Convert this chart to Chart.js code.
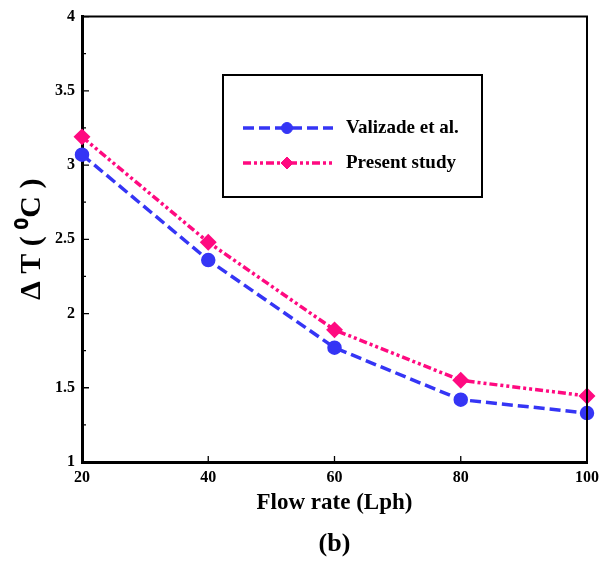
<!DOCTYPE html>
<html>
<head>
<meta charset="utf-8">
<script src="https://cdn.jsdelivr.net/npm/chart.js@4.4.1/dist/chart.umd.min.js"></script>
<style>
  html, body { margin: 0; padding: 0; background: #fff; }
  #wrap { width: 609px; height: 562px; }
</style>
</head>
<body>
<div id="wrap"><canvas id="grafico"></canvas></div>
<script>
// datos
const flowRate = [20, 40, 60, 80, 100];
const valizade = [3.07, 2.36, 1.77, 1.42, 1.33];
const present = [3.19, 2.48, 1.89, 1.55, 1.445];
const xTicks = [20, 40, 60, 80, 100];
const yTicks = [1, 1.5, 2, 2.5, 3, 3.5, 4];
const seriesNames = ["Valizade et al.", "Present study"];

const serif = "'Liberation Serif', 'Times New Roman', serif";
const azul = "#3535f5";
const rosa = "#ff0a80";

const pares = ys => flowRate.map((x, i) => ({ x, y: ys[i] }));

// marco superior/derecho, ticks hacia dentro y leyenda en caja
const marco = {
  id: "marco",
  afterDatasetsDraw(chart) {
    const { ctx, chartArea: a, scales } = chart;
    ctx.save();
    ctx.strokeStyle = "#000";
    ctx.lineWidth = 2;
    ctx.beginPath();
    ctx.moveTo(a.left, a.top);
    ctx.lineTo(a.right, a.top);
    ctx.lineTo(a.right, a.bottom);
    ctx.stroke();

    ctx.lineWidth = 1.3;
    ctx.beginPath();
    xTicks.forEach(v => {
      const px = scales.x.getPixelForValue(v);
      ctx.moveTo(px, a.bottom);
      ctx.lineTo(px, a.bottom - 6);
    });
    yTicks.forEach((v, i) => {
      const py = scales.y.getPixelForValue(v);
      ctx.moveTo(a.left, py);
      ctx.lineTo(a.left + 7, py);
      if (i < yTicks.length - 1) {
        const pm = scales.y.getPixelForValue((v + yTicks[i + 1]) / 2);
        ctx.moveTo(a.left, pm);
        ctx.lineTo(a.left + 4, pm);
      }
    });
    ctx.stroke();

    // leyenda
    ctx.lineWidth = 2;
    ctx.strokeRect(223, 75, 259, 122);
    chart.data.datasets.forEach((ds, i) => {
      const y = 128 + i * 35;
      ctx.strokeStyle = ds.borderColor;
      ctx.lineWidth = ds.borderWidth;
      ctx.setLineDash(ds.borderDash);
      ctx.beginPath();
      ctx.moveTo(243, y);
      ctx.lineTo(333, y);
      ctx.stroke();
      ctx.setLineDash([]);
      ctx.fillStyle = ds.pointBackgroundColor;
      ctx.strokeStyle = ds.pointBorderColor;
      ctx.lineWidth = 1;
      Chart.helpers.drawPoint(ctx, { pointStyle: ds.pointStyle, radius: ds.pointRadius, rotation: 0, borderWidth: 1 }, 287, y);
      ctx.fillStyle = "#000";
      ctx.font = "bold 19px " + serif;
      ctx.textBaseline = "middle";
      ctx.textAlign = "left";
      ctx.fillText(ds.label, 346, y);
    });
    ctx.restore();
  }
};

new Chart(document.getElementById("grafico"), {
  type: "line",
  data: {
    datasets: [
      {
        label: seriesNames[0],
        data: pares(valizade),
        borderColor: azul,
        borderWidth: 3.5,
        borderDash: [11, 5],
        pointStyle: "circle",
        pointRadius: 5.5,
        pointBackgroundColor: azul,
        pointBorderColor: azul,
        clip: false
      },
      {
        label: seriesNames[1],
        data: pares(present),
        borderColor: rosa,
        borderWidth: 3.5,
        borderDash: [8, 3, 3, 3, 3, 3],
        pointStyle: "rectRot",
        pointRadius: 6,
        pointBackgroundColor: rosa,
        pointBorderColor: rosa,
        clip: false
      }
    ]
  },
  options: {
    responsive: true,
    maintainAspectRatio: false,
    animation: false,
    layout: { padding: { left: 0, right: 22, top: 15, bottom: 0 } },
    plugins: {
      legend: { display: false },
      tooltip: { enabled: false },
      title: {
        display: true,
        position: "bottom",
        fullSize: false,
        text: "(b)",
        color: "#000",
        font: { family: serif, size: 26, weight: "bold" },
        padding: { top: 0, bottom: 2 }
      }
    },
    scales: {
      x: {
        type: "linear",
        min: 20,
        max: 100,
        afterBuildTicks: s => { s.ticks = xTicks.map(v => ({ value: v })); },
        afterFit: s => { s.height = 66.8; },
        grid: { display: false, drawTicks: false },
        border: { display: true, color: "#000", width: 3 },
        ticks: {
          color: "#000",
          padding: 6,
          maxRotation: 0,
          font: { family: serif, size: 16, weight: "bold" },
          callback: v => String(v)
        },
        title: {
          display: true,
          text: "Flow rate (Lph)",
          color: "#000",
          font: { family: serif, size: 23, weight: "bold" },
          padding: { top: 4, bottom: 12 }
        }
      },
      y: {
        type: "linear",
        min: 1,
        max: 4,
        afterBuildTicks: s => { s.ticks = yTicks.map(v => ({ value: v })); },
        afterFit: s => { s.width = 82; },
        grid: { display: false, drawTicks: false },
        border: { display: true, color: "#000", width: 3 },
        ticks: {
          color: "#000",
          padding: 7,
          font: { family: serif, size: 16, weight: "bold" },
          callback: v => String(v)
        },
        title: {
          display: true,
          text: "\u0394 T ( \u2070C )",
          color: "#000",
          font: { family: serif, size: 30, weight: "bold" },
          padding: { top: 14, bottom: 0 }
        }
      }
    }
  },
  plugins: [marco]
});
</script>
</body>
</html>
